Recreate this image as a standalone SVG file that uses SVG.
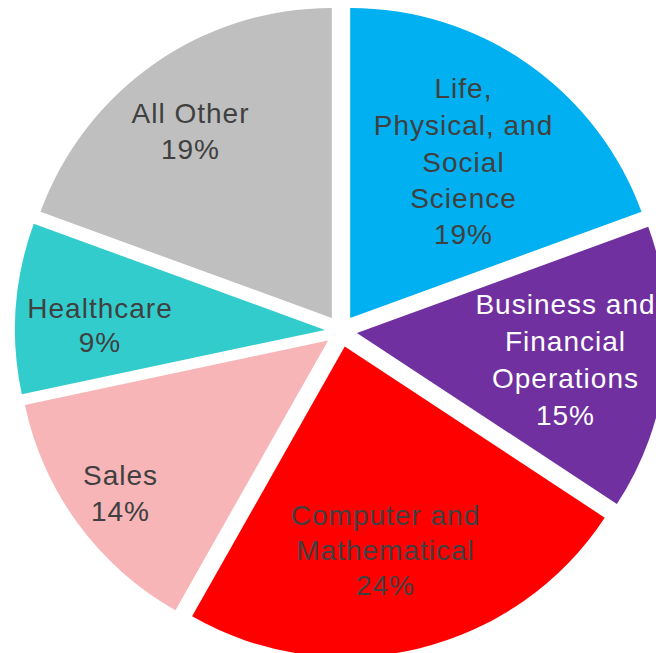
<svg xmlns="http://www.w3.org/2000/svg" width="656" height="653" viewBox="0 0 656 653">
<style>
text{font-family:"Liberation Sans",Arial,sans-serif;font-size:28px;letter-spacing:1px;fill:#404040;text-anchor:middle}
.w{fill:#FFFFFF}
</style>
<rect width="656" height="653" fill="#FFFFFF"/>
<g id="life">
<path d="M350.18,317.89 L350.18,7.89 A310,310 0 0 1 641.49,211.87 Z" fill="#00B0F0"/>
<text x="463.5" y="98">Life,</text>
<text x="463.5" y="135">Physical, and</text>
<text x="463.5" y="171.5">Social</text>
<text x="463.5" y="207.5">Science</text>
<text x="463.5" y="243.5">19%</text>
</g>
<g id="business">
<path d="M356.89,332.88 L648.20,226.86 A310,310 0 0 1 616.88,503.98 Z" fill="#7030A0"/>
<text class="w" x="565.5" y="314">Business and</text>
<text class="w" x="565.5" y="351">Financial</text>
<text class="w" x="565.5" y="388">Operations</text>
<text class="w" x="565.5" y="425">15%</text>
</g>
<g id="computer">
<path d="M344.74,346.56 L604.73,517.66 A310,310 0 0 1 192.09,616.37 Z" fill="#FF0000"/>
<text x="385.5" y="525">Computer and</text>
<text x="385.5" y="560">Mathematical</text>
<text x="385.5" y="595">24%</text>
</g>
<g id="sales">
<path d="M328.10,340.46 L175.45,610.27 A310,310 0 0 1 24.87,404.91 Z" fill="#F7B5B8"/>
<text x="120.5" y="485">Sales</text>
<text x="120.5" y="521">14%</text>
</g>
<g id="healthcare">
<path d="M325.04,329.88 L21.81,394.33 A310,310 0 0 1 33.74,223.85 Z" fill="#33CCCC"/>
<text x="100" y="317.5">Healthcare</text>
<text x="100" y="352">9%</text>
</g>
<g id="allother">
<path d="M331.82,317.89 L40.52,211.86 A310,310 0 0 1 331.82,7.89 Z" fill="#BFBFBF"/>
<text x="190.5" y="123">All Other</text>
<text x="190.5" y="159">19%</text>
</g>
<g id="connectors"></g>
</svg>
